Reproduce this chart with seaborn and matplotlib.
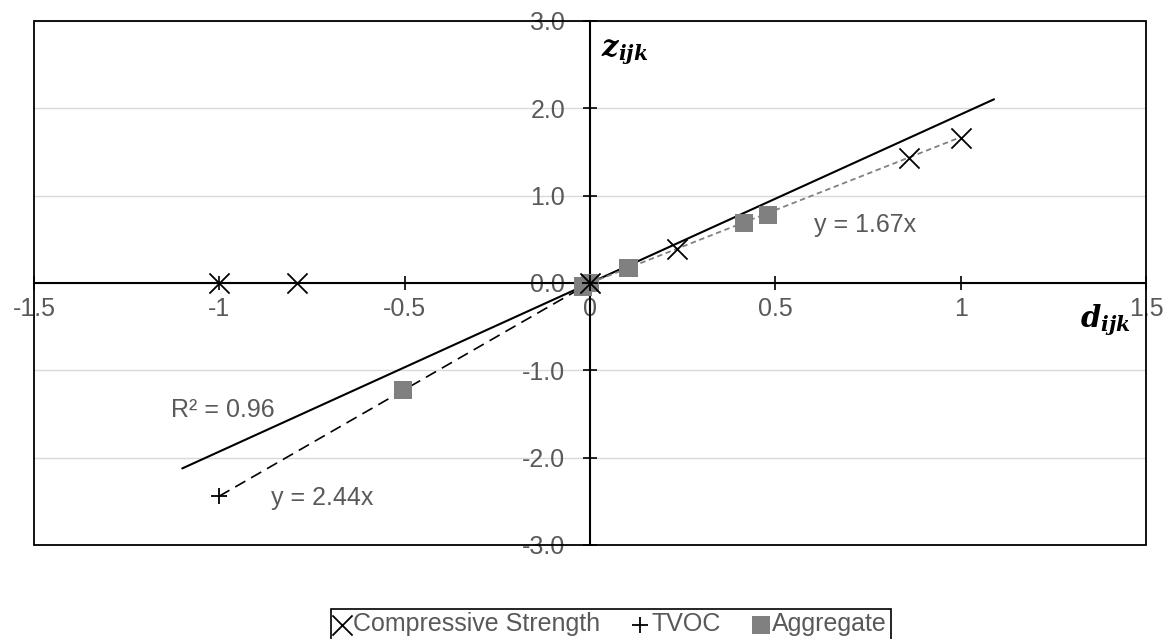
import numpy as np
import pandas as pd
import matplotlib
matplotlib.use("Agg")
import matplotlib.pyplot as plt
import seaborn as sns
from matplotlib.patches import Rectangle

# data
cs_x = [-1.0, -0.79, 0.0, 0.234, 0.861, 1.0]
cs_y = [0.0, 0.0, 0.0, 0.386, 1.428, 1.665]
tvoc_x = [-1.0, 0.0]
tvoc_y = [-2.44, 0.0]
agg_x = [-0.505, -0.02, 0.0, 0.104, 0.415, 0.481]
agg_y = [-1.225, -0.04, 0.0, 0.175, 0.684, 0.775]

# trend lines: slope and x range
cs_slope, cs_range = 1.67, [0.0, 1.0]
tvoc_slope, tvoc_range = 2.44, [-1.0, 0.0]
all_slope, all_range = 1.93, [-1.1, 1.09]

x_ticks = [-1.5, -1, -0.5, 0, 0.5, 1, 1.5]
x_tick_labels = ["-1.5", "-1", "-0.5", "0", "0.5", "1", "1.5"]
y_ticks = [-3, -2, -1, 0, 1, 2, 3]
y_tick_labels = ["-3.0", "-2.0", "-1.0", "0.0", "1.0", "2.0", "3.0"]

sns.set_theme(style="white")
plt.rcParams['font.family'] = ['Liberation Sans', 'DejaVu Sans']
plt.rcParams['axes.unicode_minus'] = False
plt.rcParams['mathtext.fontset'] = 'dejavuserif'

W, H = 1163, 639
fig = plt.figure(figsize=(W / 100, H / 100), dpi=100)
ax = fig.add_axes([34 / W, 1 - 545 / H, (1146 - 34) / W, (545 - 21) / H])

grey_text = "#595959"
grey_mark = "#808080"

# gridlines
for yv in y_ticks:
    ax.axhline(yv, color="#d9d9d9", lw=1.0, zorder=0)

# trend lines
x = np.array(all_range)
sns.lineplot(x=x, y=all_slope * x, color="black", lw=1.5, ax=ax, zorder=3)
x = np.array(tvoc_range)
sns.lineplot(x=x, y=tvoc_slope * x, color="black", lw=1.2, ax=ax, zorder=3,
             linestyle=(0, (7, 4)))
x = np.array(cs_range)
sns.lineplot(x=x, y=cs_slope * x, color=grey_mark, lw=1.3, ax=ax, zorder=3,
             linestyle=(0, (3, 2)))

# points
sns.scatterplot(x=agg_x, y=agg_y, marker="s", s=170, color=grey_mark,
                edgecolor="none", ax=ax, zorder=4, label="Aggregate")
sns.scatterplot(x=cs_x, y=cs_y, marker="x", s=210, color="black",
                linewidth=1.3, ax=ax, zorder=5, label="Compressive Strength")
sns.scatterplot(x=tvoc_x, y=tvoc_y, marker="+", s=140, color="black",
                linewidth=1.3, ax=ax, zorder=5, label="TVOC")

ax.set_xlim(-1.5, 1.5)
ax.set_ylim(-3, 3)
ax.set_xticks(x_ticks)
ax.set_xticklabels(x_tick_labels)
ax.set_yticks(y_ticks)
ax.set_yticklabels(y_tick_labels)

for s in ["top", "right"]:
    ax.spines[s].set_visible(False)
ax.spines["left"].set_position(("data", 0))
ax.spines["bottom"].set_position(("data", 0))
for s in ["left", "bottom"]:
    ax.spines[s].set_color("black")
    ax.spines[s].set_linewidth(1.5)
    ax.spines[s].set_zorder(2)
ax.add_patch(Rectangle((0, 0), 1, 1, transform=ax.transAxes, fill=False,
                       lw=1.3, edgecolor="black", clip_on=False, zorder=6))

ax.tick_params(axis="x", direction="inout", length=10, width=1.2, color="black",
               labelsize=18, labelcolor=grey_text, pad=5, bottom=True)
ax.tick_params(axis="y", direction="inout", length=10, width=1.2, color="black",
               labelsize=18, labelcolor=grey_text, pad=13, left=True)
ax.set_xlabel("")
ax.set_ylabel("")

# annotations
ax.text(-1.13, -1.455, "R² = 0.96", fontsize=18, color=grey_text, va="center", ha="left")
ax.text(-0.861, -2.46, "y = 2.44x", fontsize=18, color=grey_text, va="center", ha="left")
ax.text(0.603, 0.664, "y = 1.67x", fontsize=18, color=grey_text, va="center", ha="left")
ax.text(0.093, 2.64, r"$\mathbfit{z}_{\mathbfit{ijk}}$", fontsize=21, color="black",
        va="center", ha="center")
ax.text(1.39, -0.43, r"$\mathbfit{d}_{\mathbfit{ijk}}$", fontsize=21, color="black",
        va="center", ha="center")

# legend
h, l = ax.get_legend_handles_labels()
order = [l.index("Compressive Strength"), l.index("TVOC"), l.index("Aggregate")]
ax.legend([h[i] for i in order], [l[i] for i in order], loc="upper center",
          bbox_to_anchor=(0.525, 1 - 596 / H), bbox_transform=fig.transFigure,
          ncol=3, fontsize=18, frameon=True, fancybox=False, edgecolor="black",
          handlelength=0.6, handletextpad=0.15, columnspacing=1.3,
          borderpad=0.15, labelcolor=grey_text, framealpha=1)
ax.get_legend().get_frame().set_linewidth(1.2)

fig.savefig("out.png", dpi=100)
